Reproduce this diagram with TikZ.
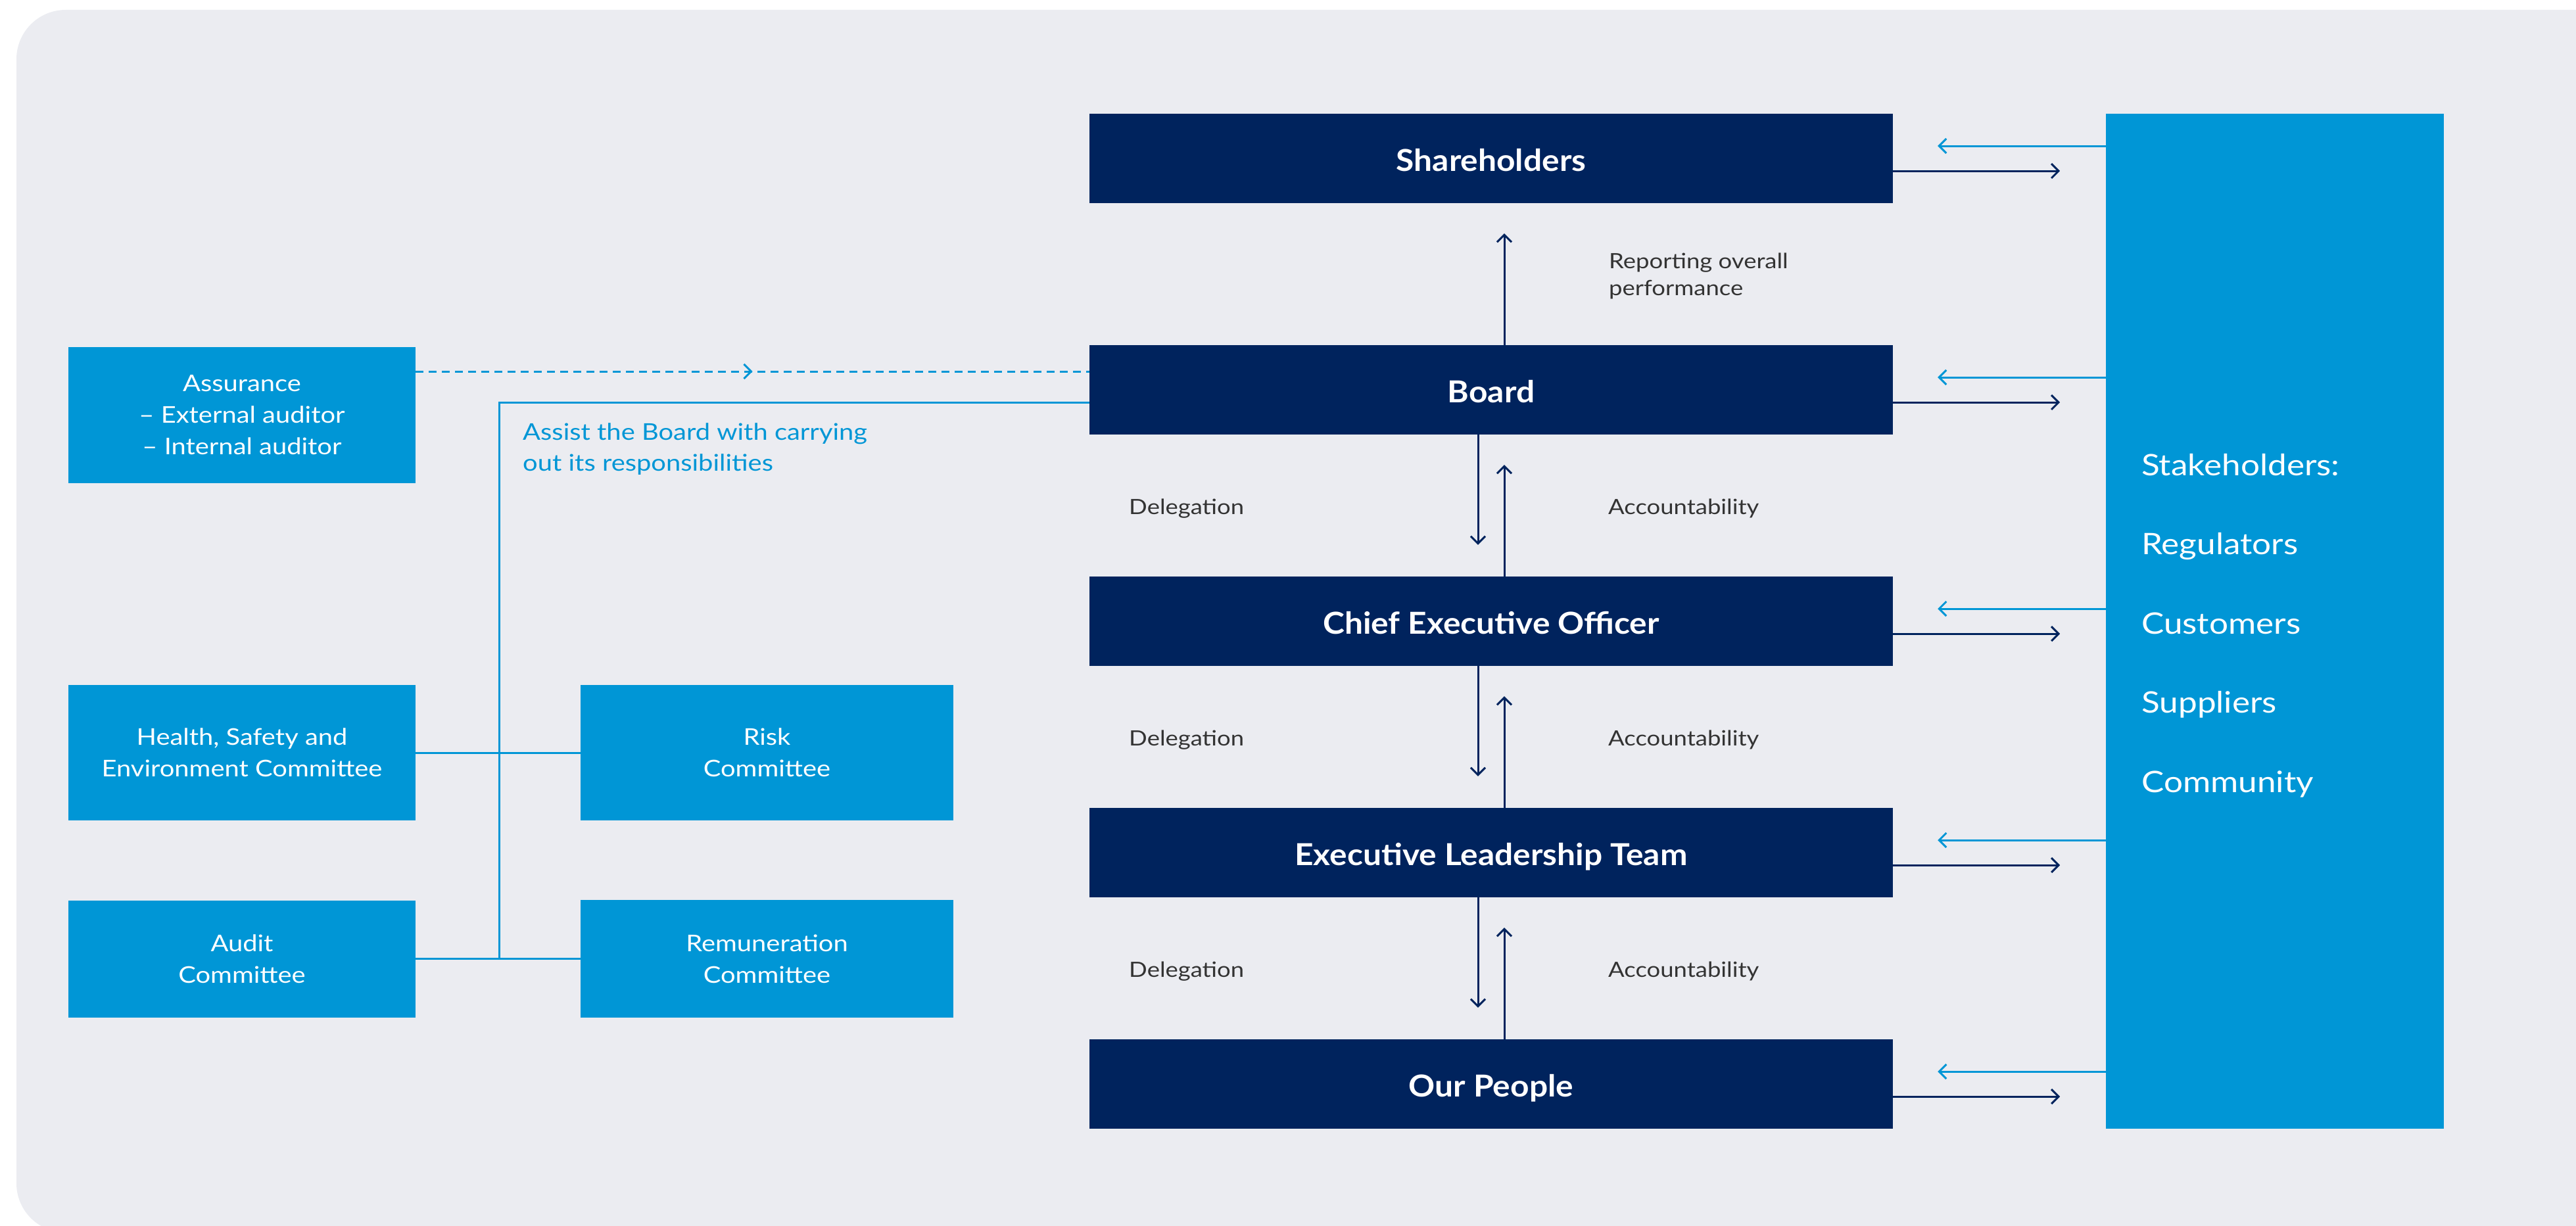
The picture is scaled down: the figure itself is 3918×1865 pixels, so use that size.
\documentclass[tikz,border=0pt]{standalone}
\usepackage{fontspec}
\setmainfont{Lato}[FakeStretch=1.14,BoldFeatures={FakeStretch=1.08}]
\usetikzlibrary{arrows.meta,calc,decorations.markings}
\definecolor{navy}{HTML}{00235D}
\definecolor{sky}{HTML}{0096D6}
\definecolor{bgc}{HTML}{EBECF1}
\definecolor{greytext}{HTML}{333333}
\begin{document}
\begin{tikzpicture}[x=1pt,y=-1pt,
  darkbox/.style={rectangle, fill=navy, text=white, minimum width=1222pt, minimum height=136pt, inner sep=0pt, text height=38pt, text depth=0pt, font=\fontsize{46pt}{55pt}\selectfont\bfseries},
  combox/.style={rectangle, fill=sky, text=white, inner sep=0pt, align=center, font=\fontsize{35pt}{48pt}\selectfont},
  flowlabel/.style={text=greytext, inner sep=0pt, align=left, font=\fontsize{32pt}{41pt}\selectfont},
  stktext/.style={text=white, inner sep=0pt, anchor=base west, font=\fontsize{45pt}{56pt}\selectfont},
  tipbarb/.style={-{Straight Barb[length=11pt,width=22pt]}},
  navyline/.style={draw=navy, line width=3pt},
  skyline/.style={draw=sky, line width=3pt},
]
\useasboundingbox (0,0) rectangle (3918,1865);
\begin{scope}
\clip (0,0) rectangle (3918,1865);
\fill[bgc, rounded corners=75pt] (25,15) rectangle (4050,1875);
\end{scope}

% main chain
\node[darkbox] (sh) at (2268,241) {Shareholders};
\node[darkbox] (board) at (2268,593) {Board};
\node[darkbox] (ceo) at (2268,945) {Chief Executive Officer};
\node[darkbox] (elt) at (2268,1297) {Executive Leadership Team};
\node[darkbox] (people) at (2268,1649) {Our People};

% stakeholders
\node[rectangle, fill=sky, minimum width=514pt, minimum height=1544pt, inner sep=0pt] (stk) at (3460,945) {};
\node[stktext] (s0) at (3257,723) {Stakeholders:};
\node[stktext] (s1) at (3257,843) {Regulators};
\node[stktext] (s2) at (3257,964) {Customers};
\node[stktext] (s3) at (3257,1084) {Suppliers};
\node[stktext] (s4) at (3257,1205) {Community};

% committees
\node[combox, minimum width=528pt, minimum height=207pt] (assur) at (368,631.5) {Assurance\\– External auditor\\– Internal auditor};
\node[combox, minimum width=528pt, minimum height=206pt] (hse) at (368,1145) {Health, Safety and\\Environment Committee};
\node[combox, minimum width=567pt, minimum height=206pt] (risk) at (1166.5,1145) {Risk\\Committee};
\node[combox, minimum width=528pt, minimum height=178pt] (audit) at (368,1458.5) {Audit\\Committee};
\node[combox, minimum width=567pt, minimum height=179pt] (remu) at (1166.5,1458.5) {Remuneration\\Committee};

% labels
\node[flowlabel, anchor=north west] (rep) at (2447,385) {Reporting overall\\performance};
\foreach \y/\i in {782/1,1134/2,1486/3}{
  \node[flowlabel, anchor=base west] (del\i) at (1717,\y) {Delegation};
  \node[flowlabel, anchor=base west] (acc\i) at (2446,\y) {Accountability};
}
\node[flowlabel, text=sky, font=\fontsize{35pt}{47pt}\selectfont, anchor=north west] (assist) at (795,644) {Assist the Board with carrying\\out its responsibilities};

% vertical arrows
\draw[navyline, tipbarb] ($(board.north)+(20,0)$) -- ($(sh.south)+(20,46)$);
\foreach \a/\b in {board/ceo, ceo/elt, elt/people}{
  \draw[navyline, tipbarb] ($(\a.south)+(-20,0)$) -- ($(\b.north)+(-20,-48)$);
  \draw[navyline, tipbarb] ($(\b.north)+(20,0)$) -- ($(\a.south)+(20,46)$);
}

% stakeholder arrows
\foreach \n in {sh,board,ceo,elt,people}{
  \draw[skyline, tipbarb] ($(stk.west |- \n.center)+(0,-19)$) -- ($(\n.east)+(68,-19)$);
  \draw[navyline, tipbarb] ($(\n.east)+(0,19)$) -- ($(\n.east)+(254,19)$);
}

% committee connectors
\coordinate (dashy) at (0,565);
\draw[skyline, dash pattern=on 12pt off 8pt, postaction={decorate},
  decoration={markings, mark=at position 0.5 with {\arrow{Straight Barb[length=11pt,width=22pt]}}}]
  (assur.east |- dashy) -- (board.west |- dashy);
\coordinate (bus) at (759,612);
\draw[skyline] (board.west |- bus) -| (bus |- audit.east);
\draw[skyline] (hse.east) -- (risk.west);
\draw[skyline] (audit.east) -- (remu.west);
\end{tikzpicture}
\end{document}
